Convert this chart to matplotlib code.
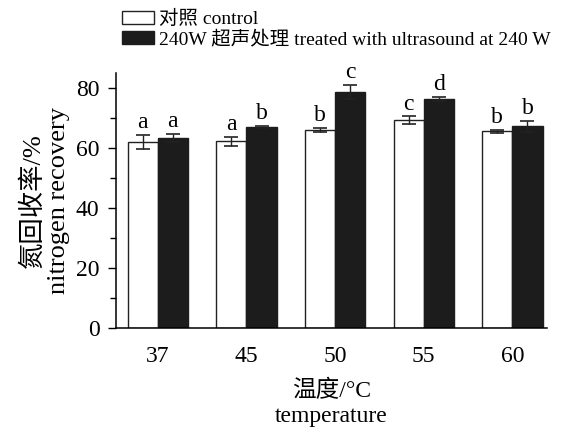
import matplotlib
matplotlib.use("Agg")
import matplotlib.pyplot as plt
from matplotlib.patches import Patch
import numpy as np

plt.rcParams['font.family'] = ['Liberation Serif', 'Noto Sans CJK SC']

temps = ['37', '45', '50', '55', '60']
control = [62.0, 62.2, 66.0, 69.3, 65.5]
control_err = [2.3, 1.5, 0.6, 1.2, 0.5]
treated = [63.3, 66.9, 78.7, 76.2, 67.2]
treated_err = [1.3, 0.4, 2.3, 0.7, 1.9]
control_sig = ['a', 'a', 'b', 'c', 'b']
treated_sig = ['a', 'b', 'c', 'd', 'b']

fig = plt.figure(figsize=(5.61, 4.32), dpi=100)
ax = fig.add_axes([0.207, 0.241, 0.768, 0.59])

x = np.arange(len(temps))
w = 0.34
ax.bar(x - w/2, control, w, color='white', edgecolor='#222222', linewidth=1.0,
       yerr=control_err, capsize=5, error_kw=dict(elinewidth=1.0, capthick=1.2, ecolor='#222222'))
ax.bar(x + w/2, treated, w, color='#1c1c1c', edgecolor='#1c1c1c', linewidth=1.0,
       yerr=treated_err, capsize=5, error_kw=dict(elinewidth=1.0, capthick=1.2, ecolor='#222222'))

for i in range(len(temps)):
    ax.text(x[i] - w/2, control[i] + control_err[i] + 0.6, control_sig[i],
            ha='center', va='bottom', fontsize=17)
    ax.text(x[i] + w/2, treated[i] + treated_err[i] + 0.6, treated_sig[i],
            ha='center', va='bottom', fontsize=17)

ax.set_xlim(-0.47, 4.39)
ax.set_ylim(0, 85)
ax.set_xticks(x)
ax.set_xticklabels(temps, fontsize=17)
ax.tick_params(axis='x', length=0, pad=13)
ax.set_yticks([0, 20, 40, 60, 80])
ax.set_yticks([10, 30, 50, 70], minor=True)
ax.tick_params(axis='y', which='major', length=6, width=1.0, labelsize=17, pad=6)
ax.tick_params(axis='y', which='minor', length=4, width=1.0)
for s in ['top', 'right']:
    ax.spines[s].set_visible(False)
for s in ['left', 'bottom']:
    ax.spines[s].set_linewidth(1.1)

ax.set_ylabel('氮回收率/%\nnitrogen recovery', fontsize=19, labelpad=4, linespacing=1.2)
ax.set_xlabel('温度/°C\ntemperature', fontsize=17, labelpad=9, linespacing=1.25)

handles = [Patch(facecolor='white', edgecolor='#222222', linewidth=1.0),
           Patch(facecolor='#1c1c1c', edgecolor='#1c1c1c')]
labels = ['对照 control', '240W 超声处理 treated with ultrasound at 240 W']
fig.legend(handles, labels, loc='upper left', bbox_to_anchor=(0.19, 1.012),
           frameon=False, fontsize=14, handlelength=1.65, handleheight=0.6,
           handletextpad=0.25, labelspacing=0.1, borderpad=0.3)

fig.savefig('out.png', dpi=100)
